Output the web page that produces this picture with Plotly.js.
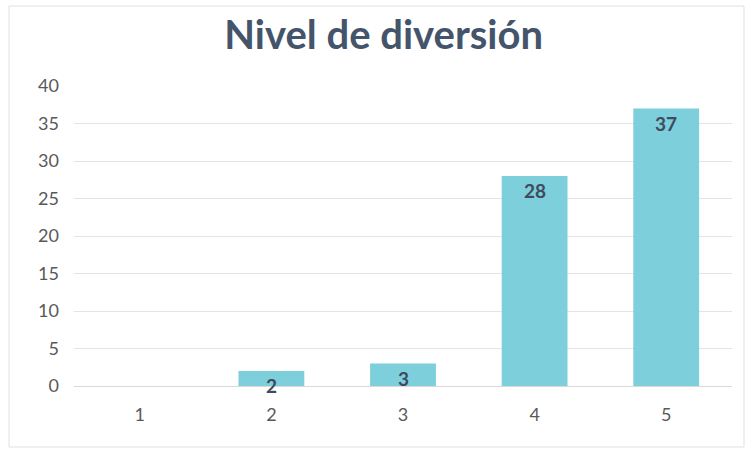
<!DOCTYPE html>
<html><head><meta charset="utf-8">
<script src="https://cdn.plot.ly/plotly-3.0.1.min.js"></script>
<style>html,body{margin:0;padding:0;background:#fff}#chart{width:745px;height:450px}</style>
</head><body><div id="chart"></div>
<script>
const categories = ['1', '2', '3', '4', '5'];
const values = [null, 2, 3, 28, 37];
const yTicks = [0, 5, 10, 15, 20, 25, 30, 35, 40];
const titleText = 'Nivel de diversión';

const bars = {
  type: 'bar', x: categories, y: values,
  marker: {color: '#7ccfdb'}, width: 0.5, hoverinfo: 'skip'
};
// category axis: annotation x given as category index
const annotations = categories.map((c, i) => values[i] === null ? null : ({
  x: i, y: values[i], xref: 'x', yref: 'y', text: String(values[i]),
  showarrow: false, yanchor: 'top', xanchor: 'center', yshift: -1,
  font: {family: 'Lato, sans-serif', size: 19, color: '#404b5e', weight: 'bold'}
})).filter(a => a);

const layout = {
  width: 745, height: 450,
  margin: {l: 74, r: 13, t: 86, b: 64},
  paper_bgcolor: '#ffffff', plot_bgcolor: '#ffffff',
  showlegend: false,
  title: {text: titleText, x: 0.515, xanchor: 'center', y: 0.922, yanchor: 'middle',
    font: {family: 'Lato, sans-serif', size: 40, color: '#44546a', weight: 'bold'}},
  xaxis: {type: 'category', range: [-0.5, categories.length - 0.5], showgrid: false, zeroline: false, showline: true,
    linecolor: '#d9d9d9', linewidth: 1, ticks: '', ticklabelstandoff: 12,
    tickfont: {family: 'Lato, sans-serif', size: 18, color: '#595959'}},
  yaxis: {range: [0, 40], tickvals: yTicks, showgrid: true, gridcolor: '#e4e4e4',
    zeroline: false, showline: false, ticks: '', ticklabelstandoff: 14,
    tickfont: {family: 'Lato, sans-serif', size: 18, color: '#595959'}},
  annotations: annotations,
  shapes: [{type: 'rect', xref: 'paper', yref: 'paper',
    x0: (9 - 74) / 658, x1: (744 - 74) / 658, y0: -(447 - 386) / 300, y1: 1 + (86 - 6) / 300,
    line: {color: '#e0e0e0', width: 1}, layer: 'below'}]
};
Plotly.newPlot('chart', [bars], layout, {staticPlot: true});
</script></body></html>
